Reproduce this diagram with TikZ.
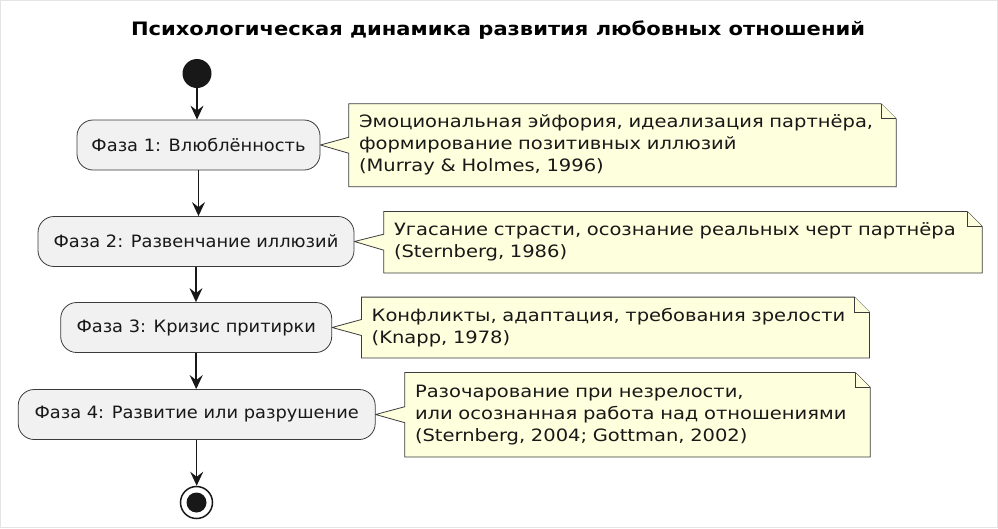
\documentclass[tikz,border=0pt]{standalone}
\usepackage{fontspec}
\setmainfont{DejaVu Sans}
\newfontfamily\notefont[FakeStretch=1.147]{DejaVu Sans}
\newfontfamily\boxfont[FakeStretch=1.048]{DejaVu Sans}
\newfontfamily\titlefont[FakeStretch=1.138]{DejaVu Sans Bold}
\usetikzlibrary{arrows.meta}
\pgfdeclarelayer{background}
\pgfsetlayers{background,main}
\definecolor{lineC}{HTML}{181818}
\definecolor{boxF}{HTML}{F1F1F1}
\definecolor{noteF}{HTML}{FEFFDD}
\definecolor{frameC}{HTML}{E4E4E4}
\begin{document}
\begin{tikzpicture}[x=1pt,y=-1pt,
  phase/.style={font=\boxfont\fontsize{17}{22}\selectfont, text=lineC, draw=lineC!85,
                line width=0.8pt, fill=boxF, rounded corners=16pt,
                minimum height=50pt, inner sep=0pt},
  note/.style={font=\notefont\fontsize{17}{22}\selectfont, text=lineC,
               inner xsep=10pt, inner ysep=0pt, align=left},
  noteshape/.style={draw=lineC!85, line width=0.8pt, fill=noteF, line join=miter},
  flow/.style={draw=lineC, line width=1.5pt, -{Stealth[length=14pt,width=13pt,inset=5pt]}}
]
\useasboundingbox (0,0) rectangle (998,528);
\draw[frameC, line width=1pt] (0.5,0.5) rectangle (997.5,527.5);

\node[font=\titlefont\fontsize{18.5}{22}\selectfont, text=black] (title) at (498,30)
  {Психологическая динамика развития любовных отношений};

\node[circle, fill=lineC, minimum size=29pt, inner sep=0pt] (start) at (197,73.5) {};

\node[phase, minimum width=243pt] (b1) at (198.5,145) {Фаза 1: Влюблённость};
\node[phase, minimum width=316pt] (b2) at (196,241.5) {Фаза 2: Развенчание иллюзий};
\node[phase, minimum width=271pt] (b3) at (196.2,327.5) {Фаза 3: Кризис притирки};
\node[phase, minimum width=357pt] (b4) at (196.7,414.5) {Фаза 4: Развитие или разрушение};

\node[circle, draw=lineC, line width=1.5pt, fill=white, minimum size=32pt, inner sep=0pt] (end) at (196.5,502.5) {};
\node[circle, fill=lineC, minimum size=20pt, inner sep=0pt] (endin) at (end.center) {};

\node[note, text width=527pt, minimum height=82.5pt] (n1) at (622.5,145.25)
  {Эмоциональная эйфория, идеализация партнёра,\\формирование позитивных иллюзий\\(Murray \& Holmes, 1996)};
\node[note, text width=578pt, minimum height=61pt] (n2) at (683,242.2)
  {Угасание страсти, осознание реальных черт партнёра\\(Sternberg, 1986)};
\node[note, text width=487.6pt, minimum height=60.4pt] (n3) at (615.5,327.5)
  {Конфликты, адаптация, требования зрелости\\(Knapp, 1978)};
\node[note, text width=445pt, minimum height=84pt] (n4) at (637.5,414.7)
  {Разочарование при незрелости,\\или осознанная работа над отношениями\\(Sternberg, 2004; Gottman, 2002)};

\begin{pgfonlayer}{background}
\foreach \n/\b in {n1/b1,n2/b2,n3/b3,n4/b4}{
  \draw[noteshape] (\n.north west) -- ([xshift=-15pt]\n.north east)
    -- ([yshift=-15pt]\n.north east) -- (\n.south east) -- (\n.south west)
    -- ([yshift=-8pt]\n.west) -- (\b.east) -- ([yshift=8pt]\n.west) -- cycle;
  \draw[noteshape] ([xshift=-15pt]\n.north east) -- ([xshift=-15pt,yshift=-15pt]\n.north east)
    -- ([yshift=-15pt]\n.north east);
}
\end{pgfonlayer}

\draw[flow] (start.south) -- (start.south |- b1.north);
\draw[flow] (b1.south) -- (b1.south |- b2.north);
\draw[flow] (b2.south) -- (b2.south |- b3.north);
\draw[flow] (b3.south) -- (b3.south |- b4.north);
\draw[flow] (b4.south) -- (b4.south |- end.north);
\end{tikzpicture}
\end{document}
